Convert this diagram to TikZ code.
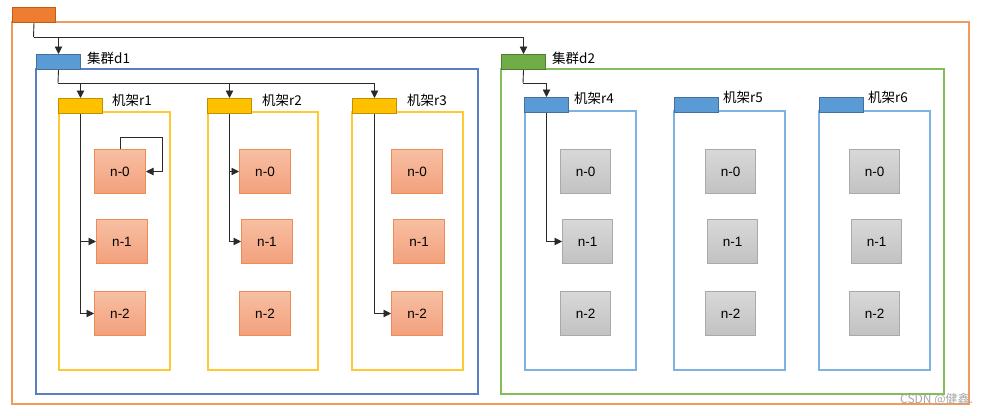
\documentclass[tikz,border=0pt]{standalone}
\usepackage{fontspec}
\setmainfont{Liberation Sans}
\newfontfamily\cjk{Noto Sans CJK SC}
\usetikzlibrary{arrows.meta}
\definecolor{ohead}{HTML}{ED7D31}
\definecolor{oheadb}{HTML}{C55A11}
\definecolor{oframe}{HTML}{F29A5E}
\definecolor{bhead}{HTML}{5B9BD5}
\definecolor{bheadb}{HTML}{41719C}
\definecolor{bframe}{HTML}{5A7EC4}
\definecolor{lbframe}{HTML}{7EB2E0}
\definecolor{yhead}{HTML}{FFC000}
\definecolor{yheadb}{HTML}{BF9000}
\definecolor{yframe}{HTML}{FFC933}
\definecolor{ghead}{HTML}{70AD47}
\definecolor{gheadb}{HTML}{507E32}
\definecolor{gframe}{HTML}{82BE5A}
\definecolor{stop}{HTML}{F7BFA2}
\definecolor{sbot}{HTML}{F3A07C}
\definecolor{sbord}{HTML}{EE8A55}
\definecolor{gtop}{HTML}{D8D8D8}
\definecolor{gbot}{HTML}{C2C2C2}
\definecolor{gbord}{HTML}{A9A9A9}
\definecolor{conn}{HTML}{2A2A2A}
\tikzset{
  hdr/.style={draw, line width=1pt, minimum width=44pt, minimum height=15pt, inner sep=0pt, anchor=north west},
  frm/.style={line width=1.2pt},
  snode/.style={draw=sbord, line width=1pt, top color=stop, bottom color=sbot, minimum width=51pt, minimum height=44pt, inner sep=0pt, anchor=north west, font=\fontsize{13.5}{15}\selectfont},
  gnode/.style={draw=gbord, line width=1pt, top color=gtop, bottom color=gbot, minimum width=50pt, minimum height=44pt, inner sep=0pt, anchor=north west, font=\fontsize{13.5}{15}\selectfont},
  lbl/.style={anchor=west, inner sep=0pt, font=\fontsize{13.5}{15}\selectfont},
  cn/.style={draw=conn, line width=0.9pt},
  arr/.style={cn, -{Triangle[length=7.5pt,width=7.5pt]}},
}
\begin{document}
\begin{tikzpicture}[x=1pt,y=-1pt]
\useasboundingbox (0,0) rectangle (992,415);
% frames
\draw[frm, oframe] (12,22) rectangle (969,404);
\draw[frm, bframe] (36,69) rectangle (478,394);
\draw[frm, gframe] (501,69) rectangle (944,394);
\draw[frm, yframe] (59,112) rectangle (170,370);
\draw[frm, yframe] (208,112) rectangle (318,370);
\draw[frm, yframe] (352,112) rectangle (463,370);
\draw[frm, lbframe] (525,111) rectangle (636,370);
\draw[frm, lbframe] (674,111) rectangle (785,370);
\draw[frm, lbframe] (819,111) rectangle (930,370);
% headers
\node[hdr, draw=oheadb, fill=ohead, minimum width=43pt] (top) at (12,7) {};
\node[hdr, draw=bheadb, fill=bhead] (d1h) at (36,54) {};
\node[hdr, draw=gheadb, fill=ghead] (d2h) at (501,54) {};
\node[hdr, draw=yheadb, fill=yhead] (r1h) at (58,98) {};
\node[hdr, draw=yheadb, fill=yhead] (r2h) at (207,98) {};
\node[hdr, draw=yheadb, fill=yhead] (r3h) at (352,98) {};
\node[hdr, draw=bheadb, fill=bhead] (r4h) at (524,97) {};
\node[hdr, draw=bheadb, fill=bhead] (r5h) at (674,97) {};
\node[hdr, draw=bheadb, fill=bhead] (r6h) at (819,97) {};
% labels
\node[lbl] (l1) at (87,58) {\cjk 集群d1};
\node[lbl] (l2) at (552,58) {\cjk 集群d2};
\node[lbl] (lr1) at (112,100) {\cjk 机架r1};
\node[lbl] (lr2) at (262,100) {\cjk 机架r2};
\node[lbl] (lr3) at (407,100) {\cjk 机架r3};
\node[lbl] (lr4) at (574,98) {\cjk 机架r4};
\node[lbl] (lr5) at (723,97) {\cjk 机架r5};
\node[lbl] (lr6) at (868,97) {\cjk 机架r6};
% nodes r1-r3
\node[snode] (r1n0) at (94,149) {n-0};
\node[snode] (r1n1) at (96,219) {n-1};
\node[snode] (r1n2) at (94,291) {n-2};
\node[snode] (r2n0) at (239,149) {n-0};
\node[snode] (r2n1) at (241,219) {n-1};
\node[snode] (r2n2) at (239,291) {n-2};
\node[snode] (r3n0) at (391,149) {n-0};
\node[snode] (r3n1) at (393,219) {n-1};
\node[snode] (r3n2) at (391,291) {n-2};
% nodes r4-r6
\node[gnode] (r4n0) at (560,149) {n-0};
\node[gnode] (r4n1) at (562,219) {n-1};
\node[gnode] (r4n2) at (560,291) {n-2};
\node[gnode] (r5n0) at (705,149) {n-0};
\node[gnode] (r5n1) at (707,219) {n-1};
\node[gnode] (r5n2) at (705,291) {n-2};
\node[gnode] (r6n0) at (849,149) {n-0};
\node[gnode] (r6n1) at (851,219) {n-1};
\node[gnode] (r6n2) at (849,291) {n-2};
% connectors
\coordinate (j0) at (33.5,37);
\draw[cn] (top.south) -- (j0);
\draw[arr] (j0) -| (d1h.north);
\draw[arr] (j0) -| (d2h.north);
\coordinate (j1) at (58,83);
\draw[cn] (d1h.south) -- (j1);
\draw[arr] (j1) -| (r1h.north);
\draw[arr] (j1) -| (r2h.north);
\draw[arr] (j1) -| (r3h.north);
\draw[arr] (r1h.south) |- (r1n1.west);
\draw[arr] (r1h.south) |- (r1n2.west);
\coordinate (lp) at (162,137);
\draw[arr] (r1n0.north) |- (lp) |- (r1n0.east);
\draw[arr] (r2h.south) |- (r2n0.west);
\draw[arr] (r2h.south) |- (r2n1.west);
\draw[arr] (r3h.south) |- (r3n2.west);
\coordinate (j2) at (523,83);
\draw[cn] (d2h.south) -- (j2);
\draw[arr] (j2) -| (r4h.north);
\draw[arr] (r4h.south) |- (r4n1.west);
% watermark
\node[anchor=west, inner sep=0pt, text=gray!70, font=\cjk\fontsize{12}{13}\selectfont] (wm) at (900,399) {CSDN @健鑫.};
\end{tikzpicture}
\end{document}
